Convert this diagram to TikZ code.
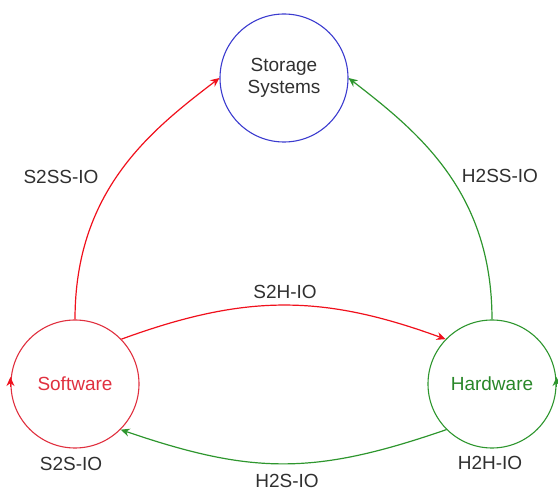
\documentclass[tikz,border=0pt]{standalone}
\usepackage{fontspec}
\setmainfont{Liberation Sans}
\usetikzlibrary{arrows.meta}
\definecolor{swred}{HTML}{E0303F}
\definecolor{arred}{HTML}{F0101C}
\definecolor{hwgreen}{HTML}{2E962E}
\definecolor{stblue}{HTML}{3C3CCF}
\definecolor{lbl}{HTML}{303030}
\tikzset{
  x=1pt, y=1pt,
  unit/.style={circle, draw, line width=1.1pt, minimum size=128pt, inner sep=0pt,
    align=center, font=\fontsize{19}{22}\selectfont},
  flow/.style={line width=1.2pt, -{Stealth[length=9pt,width=8pt]}},
  tag/.style={text=lbl, font=\fontsize{19}{22}\selectfont, inner sep=0pt}
}
\begin{document}
\begin{tikzpicture}
\useasboundingbox (0,0) rectangle (558,491);

% the three units
\node[unit, draw=stblue, text=lbl] (st) at (284,413) {Storage\\Systems};
\node[unit, draw=swred, text=swred] (sw) at (75,107) {Software};
\node[unit, draw=hwgreen, text=hwgreen!90!black] (hw) at (492,107) {Hardware};

% flows towards storage
\draw[flow, arred] (sw.north) .. controls (75,300) and (150,360) .. (st.west);
\draw[flow, hwgreen] (hw.north) .. controls (492,300) and (417,360) .. (st.east);

% flows between software and hardware
\draw[flow, arred] (sw.44) .. controls (245,197) and (322,197) .. (hw.136);
\draw[flow, hwgreen] (hw.225) .. controls (315,16) and (253,16) .. (sw.-45);

% self flows
\draw[flow, arred] ([yshift=-3pt]sw.west) -- ([yshift=7pt]sw.west);
\draw[flow, hwgreen] ([yshift=-3pt]hw.east) -- ([yshift=7pt]hw.east);

% labels
\node[tag] (l1) at (61,314) {S2SS-IO};
\node[tag] (l2) at (500,315) {H2SS-IO};
\node[tag] (l3) at (285,199) {S2H-IO};
\node[tag] (l4) at (287,10) {H2S-IO};
\node[tag] (l5) at (71,27) {S2S-IO};
\node[tag] (l6) at (490,28) {H2H-IO};
\end{tikzpicture}
\end{document}
